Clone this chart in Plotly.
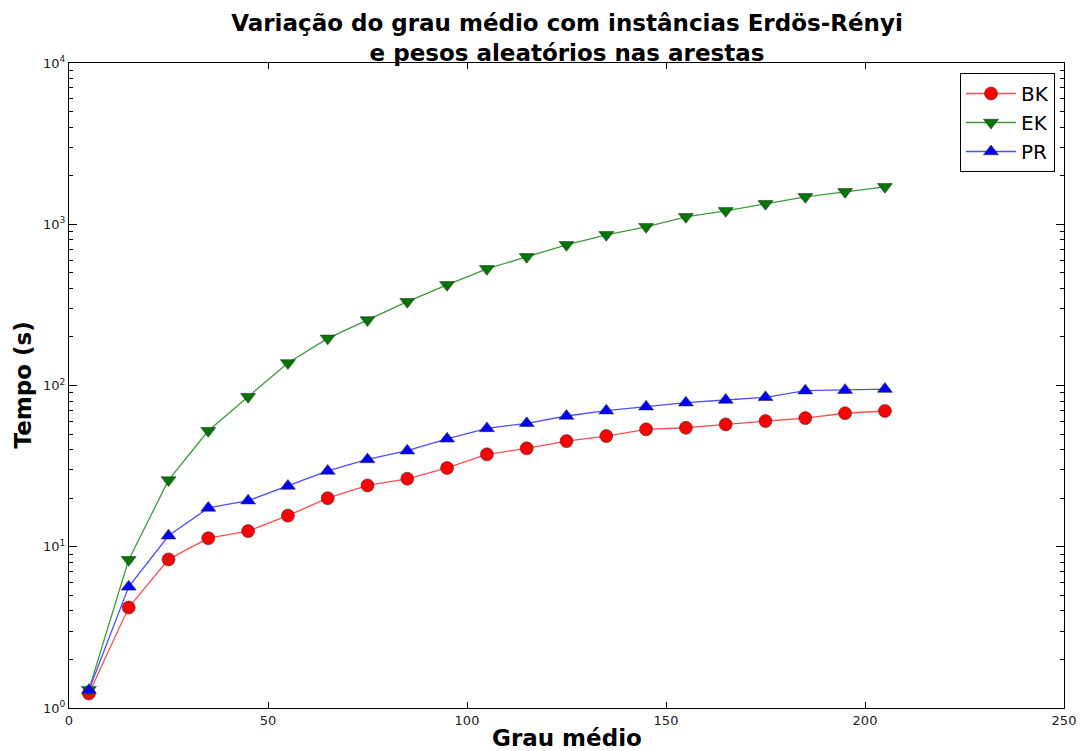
import plotly.graph_objects as go

# Grau médio (x) e tempos medidos (s) para cada algoritmo
grau = [5, 15, 25, 35, 45, 55, 65, 75, 85, 95, 105, 115, 125, 135, 145, 155, 165, 175, 185, 195, 205]
bk = [1.23, 4.2, 8.35, 11.3, 12.5, 15.6, 20.0, 24.0, 26.4, 30.8, 37.4, 40.8, 45.2, 48.6, 53.5, 54.7, 57.4, 60.2, 62.8, 67.3, 69.5]
ek = [1.3, 8.3, 25.9, 52.4, 85.2, 138, 196, 255, 331, 421, 529, 628, 745, 860, 964, 1112, 1211, 1339, 1479, 1588, 1707]
pr = [1.29, 5.64, 11.7, 17.4, 19.3, 23.8, 29.5, 34.8, 39.4, 46.7, 54.2, 58.3, 64.7, 69.8, 73.9, 78.2, 81.3, 84.5, 92.9, 93.6, 95.0]

x_ticks = [0, 50, 100, 150, 200, 250]
y_major = [1, 10, 100, 1000, 10000]
y_labels = ["10<sup>%d</sup>" % e for e in range(5)]
y_minor = [m * 10 ** e for e in range(4) for m in range(2, 10)]

FONT = "DejaVu Sans"

series = [
    ("BK", bk, "#ff0000", "#ff4d4d", "circle"),
    ("EK", ek, "#007700", "#3c9a3c", "triangle-down"),
    ("PR", pr, "#0000ff", "#4d4dff", "triangle-up"),
]

fig = go.Figure()
for name, vals, mcol, lcol, sym in series:
    fig.add_trace(go.Scatter(
        x=grau, y=vals, name=name, mode="lines+markers",
        line=dict(color=lcol, width=1.3),
        marker=dict(symbol=sym, size=13, color=mcol,
                    line=dict(color="#333333", width=0.6)),
    ))

axis_common = dict(
    showgrid=False, zeroline=False, showline=True, linecolor="#000000",
    linewidth=1, mirror="ticks", ticks="inside", tickcolor="#000000",
    automargin=False,
    tickfont=dict(family=FONT, size=13, color="#222222"),
)

fig.update_layout(
    width=1080, height=751,
    paper_bgcolor="white", plot_bgcolor="white",
    margin=dict(l=69, r=16, t=63, b=43),
    font=dict(family=FONT, color="#000000"),
    title=dict(
        text="<b>Variação do grau médio com instâncias Erdös-Rényi<br>e pesos aleatórios nas arestas</b>",
        x=567 / 1080, xanchor="center", xref="container",
        y=1 - 31 / 751, yanchor="middle", yref="container",
        font=dict(family=FONT, size=23, color="#000000"),
    ),
    xaxis=dict(range=[0, 250], tickvals=x_ticks, ticklen=6, **axis_common),
    yaxis=dict(type="log", range=[0, 4], tickvals=y_major, ticktext=y_labels,
               ticklen=8,
               minor=dict(tickvals=y_minor, ticks="inside", ticklen=4,
                          tickcolor="#000000", tickwidth=1),
               **axis_common),
    legend=dict(
        x=(1055 - 69) / 995, y=(708 - 73) / 645, xanchor="right", yanchor="top",
        bgcolor="white", bordercolor="#000000", borderwidth=1,
        font=dict(family=FONT, size=20, color="#000000"),
        itemwidth=50, tracegroupgap=4,
    ),
    showlegend=True,
    annotations=[
        dict(text="<b>Grau médio</b>", xref="paper", yref="paper",
             x=(567 - 69) / 995, y=-30 / 645, xanchor="center", yanchor="middle",
             showarrow=False, font=dict(family=FONT, size=23)),
        dict(text="<b>Tempo (s)</b>", xref="paper", yref="paper",
             x=-47 / 995, y=0.5, xanchor="center", yanchor="middle",
             textangle=-90, showarrow=False, font=dict(family=FONT, size=23)),
    ],
)

fig.write_html("out.html")
